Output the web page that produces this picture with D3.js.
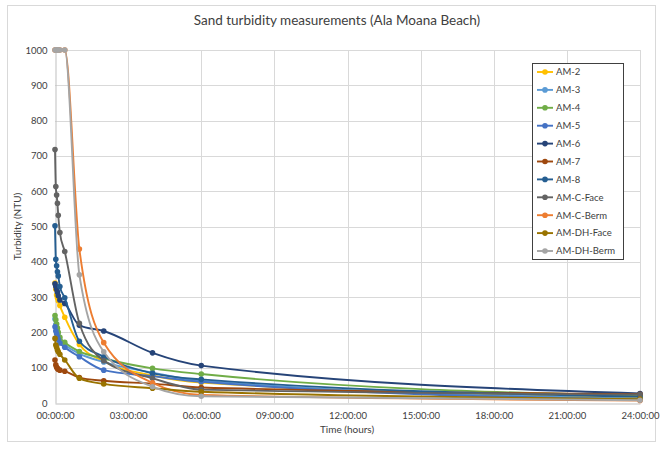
<!DOCTYPE html>
<html>
<head>
<meta charset="utf-8">
<script src="https://cdn.jsdelivr.net/npm/d3@7/dist/d3.min.js"></script>
<style>
  html, body { margin: 0; padding: 0; background: #fff; }
  svg { display: block; font-family: Lato, "Liberation Sans", sans-serif; }
</style>
</head>
<body>
<svg id="chart" width="662" height="450"></svg>
<script>
// Sampling times, in minutes after the start
const timesMin = [0, 2, 4, 6, 8, 12, 24, 60, 120, 240, 360, 1440];

// Turbidity readings (NTU) per sample, one array per sample
const am2      = [340, 322, 306, 298, 290, 276, 243, 166, 118, 78, 58, 16];
const am3      = [238, 222, 210, 200, 190, 178, 165, 140, 116, 86, 63, 12];
const am4      = [248, 236, 224, 212, 200, 186, 172, 146, 126, 98, 82, 20];
const am5      = [216, 204, 196, 188, 180, 170, 158, 131, 93, 76, 60, 9];
const am6      = [338, 330, 322, 314, 304, 292, 282, 220, 204, 142, 106, 27];
const am7      = [122, 108, 101, 98, 95, 93, 90, 72, 63, 55, 44, 25];
const am8      = [502, 407, 389, 372, 360, 330, 298, 175, 131, 84, 67, 18];
const amCFace  = [718, 613, 589, 566, 532, 483, 429, 226, 120, 70, 38, 24];
const amCBerm  = [1000, 1000, 1000, 1000, 1000, 1000, 1000, 436, 171, 57, 23, 7];
const amDHFace = [183, 164, 158, 150, 145, 138, 122, 70, 54, 42, 32, 11];
const amDHBerm = [1000, 1000, 1000, 1000, 1000, 1000, 1000, 363, 145, 46, 19, 8];

const seriesNames  = ["AM-2", "AM-3", "AM-4", "AM-5", "AM-6", "AM-7", "AM-8",
                      "AM-C-Face", "AM-C-Berm", "AM-DH-Face", "AM-DH-Berm"];
const seriesValues = [am2, am3, am4, am5, am6, am7, am8,
                      amCFace, amCBerm, amDHFace, amDHBerm];
const seriesColors = ["#FFC000", "#5B9BD5", "#70AD47", "#4472C4", "#264478", "#9E480E",
                      "#255E91", "#636363", "#ED7D31", "#997300", "#A5A5A5"];

// Axis ticks
const xTickHours = [0, 3, 6, 9, 12, 15, 18, 21, 24];
const yTicks = [0, 100, 200, 300, 400, 500, 600, 700, 800, 900, 1000];

const svg = d3.select("#chart");
const plot = { left: 55, right: 640, top: 50, bottom: 403 };

// Outer chart frame
svg.append("rect")
  .attr("x", 7.5).attr("y", 5.5).attr("width", 648).attr("height", 436)
  .attr("fill", "#fff").attr("stroke", "#d9d9d9").attr("stroke-width", 1);

const x = d3.scaleLinear().domain([0, 24]).range([plot.left, plot.right]);
const y = d3.scaleLinear().domain([0, 1000]).range([plot.bottom, plot.top]);

// Gridlines
const grid = svg.append("g");
grid.selectAll("line.h").data(yTicks.filter(d => d > 0)).join("line")
  .attr("x1", plot.left).attr("x2", plot.right)
  .attr("y1", d => Math.round(y(d)) + 0.5).attr("y2", d => Math.round(y(d)) + 0.5)
  .attr("stroke", "#d9d9d9").attr("stroke-width", 1);
grid.selectAll("line.v").data(xTickHours.filter(d => d > 0)).join("line")
  .attr("y1", plot.top).attr("y2", plot.bottom)
  .attr("x1", d => Math.round(x(d)) + 0.5).attr("x2", d => Math.round(x(d)) + 0.5)
  .attr("stroke", "#d9d9d9").attr("stroke-width", 1);

// Axes
const pad = n => String(n).padStart(2, "0");
const xAxis = d3.axisBottom(x).tickValues(xTickHours).tickSize(0).tickPadding(9)
  .tickFormat(h => `${pad(h)}:00:00`);
const yAxis = d3.axisLeft(y).tickValues(yTicks).tickSize(0).tickPadding(8)
  .tickFormat(d3.format("d"));

const gx = svg.append("g").attr("transform", `translate(0,${plot.bottom + 0.5})`).call(xAxis);
const gy = svg.append("g").attr("transform", `translate(${plot.left + 0.5},0)`).call(yAxis);
[gx, gy].forEach(g => {
  g.select(".domain").attr("stroke", "#bfbfbf");
  g.selectAll("text").attr("fill", "#404040").attr("font-size", 9.5)
    .attr("font-family", "Lato, 'Liberation Sans', sans-serif");
});

// Series lines and markers
const line = d3.line()
  .x((d, i) => x(timesMin[i] / 60))
  .y(d => y(d))
  .curve(d3.curveMonotoneX);

const series = svg.append("g");
seriesValues.forEach((vals, k) => {
  const g = series.append("g");
  g.append("path").datum(vals)
    .attr("d", line)
    .attr("fill", "none")
    .attr("stroke", seriesColors[k])
    .attr("stroke-width", 1.9);
  g.selectAll("circle").data(vals).join("circle")
    .attr("cx", (d, i) => x(timesMin[i] / 60))
    .attr("cy", d => y(d))
    .attr("r", 2.8)
    .attr("fill", seriesColors[k]);
});

// Title and axis titles
svg.append("text")
  .attr("x", 337).attr("y", 25)
  .attr("text-anchor", "middle")
  .attr("font-size", 13.5).attr("fill", "#404040")
  .text("Sand turbidity measurements (Ala Moana Beach)");

svg.append("text")
  .attr("x", 347).attr("y", 433)
  .attr("text-anchor", "middle")
  .attr("font-size", 10).attr("fill", "#404040")
  .text("Time (hours)");

svg.append("text")
  .attr("transform", `translate(21,${(plot.top + plot.bottom) / 2}) rotate(-90)`)
  .attr("text-anchor", "middle")
  .attr("font-size", 10).attr("fill", "#404040")
  .text("Turbidity (NTU)");

// Legend
const legend = svg.append("g");
legend.append("rect")
  .attr("x", 532.5).attr("y", 63.5).attr("width", 91).attr("height", 196)
  .attr("fill", "#fff").attr("stroke", "#404040").attr("stroke-width", 1);
seriesNames.forEach((name, k) => {
  const cy = 72 + k * 17.9;
  legend.append("line")
    .attr("x1", 537).attr("x2", 553).attr("y1", cy).attr("y2", cy)
    .attr("stroke", seriesColors[k]).attr("stroke-width", 1.9);
  legend.append("circle")
    .attr("cx", 545).attr("cy", cy).attr("r", 2.8)
    .attr("fill", seriesColors[k]);
  legend.append("text")
    .attr("x", 556).attr("y", cy + 3.3)
    .attr("font-size", 9.5).attr("fill", "#404040")
    .text(name);
});
</script>
</body>
</html>
